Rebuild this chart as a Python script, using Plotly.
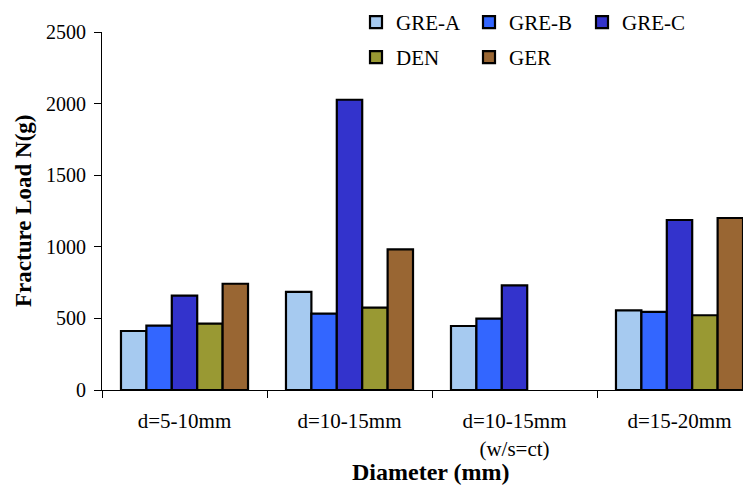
import plotly.graph_objects as go

categories = ["d=5-10mm", "d=10-15mm", "d=10-15mm<br>(w/s=ct)", "d=15-20mm"]
series_names = ["GRE-A", "GRE-B", "GRE-C", "DEN", "GER"]
gre_a = [412, 685, 447, 556]
gre_b = [450, 533, 498, 545]
gre_c = [659, 2027, 731, 1187]
den = [463, 575, None, 522]
ger = [742, 982, None, 1201]
series_values = [gre_a, gre_b, gre_c, den, ger]
colors = ["#A6CAF0", "#3366FF", "#3333CC", "#999933", "#996633"]
y_ticks = [0, 500, 1000, 1500, 2000, 2500]

FONT = "Liberation Serif"
W, H = 753, 498
ML, MR, MT, MB = 102, 10, 32, 108
PW = W - ML - MR
PH = H - MT - MB

fig = go.Figure()
for i, (name, vals, col) in enumerate(zip(series_names, series_values, colors)):
    fig.add_trace(go.Bar(
        x=categories, y=vals, name=name,
        marker=dict(color=col, line=dict(color="black", width=2.2)),
        legend="legend" if i < 3 else "legend2",
    ))

legend_common = dict(
    orientation="h", xref="paper", yref="paper",
    xanchor="left", yanchor="top",
    font=dict(family=FONT, size=21, color="black"),
    entrywidth=68, entrywidthmode="pixels",
    bgcolor="rgba(0,0,0,0)", itemclick=False, itemdoubleclick=False,
    tracegroupgap=0,
)

def px_x(px):
    return (px - ML) / PW

def px_y(py):
    return 1 - (py - MT) / PH

fig.update_layout(
    width=W, height=H,
    margin=dict(l=ML, r=MR, t=MT, b=MB, autoexpand=False),
    plot_bgcolor="white", paper_bgcolor="white",
    barmode="group", bargap=0.23, bargroupgap=0,
    font=dict(family=FONT, size=20, color="black"),
    legend=dict(x=px_x(356), y=px_y(2), **legend_common),
    legend2=dict(x=px_x(356), y=px_y(37), **legend_common),
    xaxis=dict(
        type="category", range=[-0.5, -0.5 + PW / 165.0],
        showline=True, linecolor="black", linewidth=1,
        ticks="outside", ticklen=7, tickcolor="black", tickwidth=1,
        tickson="boundaries", showgrid=False, ticklabelstandoff=12,
        tickfont=dict(family=FONT, size=21, color="black"),
    ),
    yaxis=dict(
        range=[0, 2500], tickvals=y_ticks,
        showline=True, linecolor="black", linewidth=1,
        ticks="outside", ticklen=7, tickcolor="black", tickwidth=1,
        showgrid=False, zeroline=False, ticklabelstandoff=4,
        tickfont=dict(family=FONT, size=20, color="black"),
    ),
    annotations=[
        dict(text="<b>Diameter (mm)</b>", xref="paper", yref="paper",
             x=px_x(430), y=px_y(472),
             xanchor="center", yanchor="middle", showarrow=False,
             font=dict(family=FONT, size=24, color="black")),
        dict(text="<b>Fracture Load N(g)</b>", xref="paper", yref="paper",
             x=px_x(23), y=0.5, textangle=-90,
             xanchor="center", yanchor="middle", showarrow=False,
             font=dict(family=FONT, size=23, color="black")),
    ],
)

fig.write_html("out.html", config={"displayModeBar": False},
               post_script="document.body.style.margin='0';")
